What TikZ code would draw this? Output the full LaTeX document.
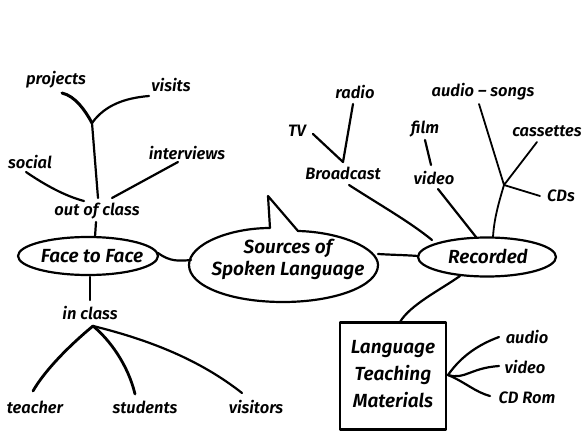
\documentclass[tikz,border=0pt]{standalone}
\usepackage{fontspec}
\setmainfont{Fira Sans}[BoldFont={* SemiBold}, BoldItalicFont={* SemiBold Italic}]
\usetikzlibrary{shapes.geometric}
\begin{document}
\begin{tikzpicture}[x=1pt,y=-1pt,
  lbl/.style={font=\fontsize{16.5}{19}\selectfont\bfseries\itshape, inner sep=1pt},
  big/.style={font=\fontsize{19}{22}\selectfont\bfseries\itshape, inner sep=1pt, align=center},
  ln/.style={line width=2.2pt, line cap=round, line join=round},
  thin/.style={line width=1.8pt, line cap=round, line join=round}]
\useasboundingbox (0,0) rectangle (583,433);
% central bubble
\node[ellipse, minimum width=190pt, minimum height=72pt, inner sep=0pt] (src) at (283,265) {};
\draw[ln] (270,228) -- (268,196) -- (298,231)
  .. controls (340,232) and (378,248) .. (378,265)
  .. controls (378,286) and (335,302) .. (283,302)
  .. controls (230,302) and (189,286) .. (189,265)
  .. controls (189,244) and (230,228) .. (270,228);
\node[big] (srct) at (288,259) {Sources of\\Spoken Language};
% Face to Face
\node[ellipse, draw, ln, minimum width=140pt, minimum height=38pt, inner sep=0pt] (f2f) at (88,256) {};
\node[big] (f2ft) at (92,256) {Face to Face};
% Recorded
\node[ellipse, draw, ln, minimum width=138pt, minimum height=39pt, inner sep=0pt] (rec) at (487,257) {};
\node[big] (rect) at (488,256) {Recorded};
% LTM box
\node[draw, ln, minimum width=106pt, minimum height=107pt, inner sep=0pt] (ltm) at (393,376) {};
\node[big, font=\fontsize{19}{27}\selectfont\bfseries\itshape] (ltmt) at (393,374) {Language\\Teaching\\Materials};
% connections to centre
\coordinate (f2fR) at (158,253);
\coordinate (srcL) at (191,260);
\draw[ln] (f2fR) .. controls (170,262) and (180,261) .. (srcL);
\coordinate (srcR) at (378,254);
\coordinate (recL) at (418,256);
\draw[ln] (srcR) .. controls (395,255) and (405,255) .. (recL);

% out of class branch
\node[lbl] (ooc) at (97,211) {out of class};
\node[lbl] (social) at (30,162) {social};
\node[lbl] (inter) at (187,153) {interviews};
\node[lbl] (proj) at (56,80) {projects};
\node[lbl] (visits) at (171,85) {visits};
\coordinate (ftop) at (95,237);
\coordinate (oocb) at (96,222);
\draw[ln] (ftop) -- (oocb);
\coordinate (fork) at (92,123);
\coordinate (oocv) at (98,198);
\coordinate (oocl) at (84,201);
\coordinate (oocr) at (112,198);
\draw[ln] (fork) -- (oocv);
\coordinate (projE) at (62,93);
\coordinate (visE) at (149,96);
\coordinate (socE) at (26,172);
\coordinate (intE) at (178,162);
\draw[ln, line width=3pt] (projE) .. controls (75,96) and (85,110) .. (fork);
\draw[ln] (fork) .. controls (105,105) and (125,98) .. (visE);
\draw[ln] (socE) .. controls (45,185) and (65,196) .. (oocl);
\draw[ln] (intE) -- (oocr);

% in class branch
\node[lbl] (inc) at (90,313) {in class};
\node[lbl] (teach) at (35,407) {teacher};
\node[lbl] (stud) at (145,407) {students};
\node[lbl] (vis2) at (256,407) {visitors};
\coordinate (fbot) at (90,277);
\coordinate (inct) at (90,300);
\draw[ln] (fbot) -- (inct);
\coordinate (incb) at (93,326);
\coordinate (teE) at (33,391);
\coordinate (stE) at (135,394);
\coordinate (viE) at (242,393);
\draw[ln, line width=2.8pt] (incb) .. controls (70,345) and (45,370) .. (teE);
\draw[ln, line width=2.8pt] (incb) .. controls (110,340) and (128,365) .. (stE);
\draw[ln] (incb) .. controls (150,340) and (200,360) .. (viE);

% Broadcast branch
\node[lbl] (broad) at (343,173) {Broadcast};
\node[lbl] (tv) at (297,131) {TV};
\node[lbl] (radio) at (355,92) {radio};
\coordinate (vb) at (343,162);
\coordinate (tvE) at (313,134);
\coordinate (raE) at (353,104);
\draw[ln] (tvE) -- (vb) -- (raE);
\coordinate (brE) at (349,185);
\coordinate (recB) at (432,240);
\draw[ln] (brE) .. controls (380,205) and (410,222) .. (recB);

% film / video
\node[lbl] (film) at (425,129) {film};
\node[lbl] (video) at (434,178) {video};
\coordinate (fiE) at (425,140);
\coordinate (viT) at (431,165);
\draw[ln] (fiE) -- (viT);
\coordinate (vidE) at (438,189);
\coordinate (recV) at (476,237);
\draw[ln] (vidE) -- (recV);

% audio-songs branch
\node[lbl] (aud) at (483,92) {audio -- songs};
\node[lbl] (cas) at (547,131) {cassettes};
\node[lbl] (cds) at (561,196) {CDs};
\coordinate (junc) at (504,185);
\coordinate (audE) at (479,104);
\coordinate (casE) at (537,142);
\coordinate (cdsE) at (540,196);
\coordinate (recT) at (493,237);
\draw[thin] (audE) -- (junc) -- (casE);
\draw[thin] (junc) -- (cdsE);
\draw[thin] (junc) .. controls (498,205) and (494,220) .. (recT);

% Recorded -> LTM
\coordinate (recBot) at (460,276);
\coordinate (ltmT) at (400,322);
\draw[ln] (recBot) .. controls (440,290) and (410,305) .. (ltmT);

% LTM outputs
\node[lbl] (a2) at (527,337) {audio};
\node[lbl] (v2) at (525,367) {video};
\node[lbl] (cdr) at (527,398) {CD Rom};
\coordinate (ltmR) at (448,375);
\coordinate (a2E) at (499,337);
\coordinate (v2E) at (499,366);
\coordinate (cdrE) at (490,396);
\draw[ln] (ltmR) .. controls (462,355) and (480,344) .. (a2E);
\draw[ln] (ltmR) .. controls (465,380) and (470,368) .. (v2E);
\draw[ln] (ltmR) .. controls (465,382) and (475,392) .. (cdrE);
\end{tikzpicture}
\end{document}
